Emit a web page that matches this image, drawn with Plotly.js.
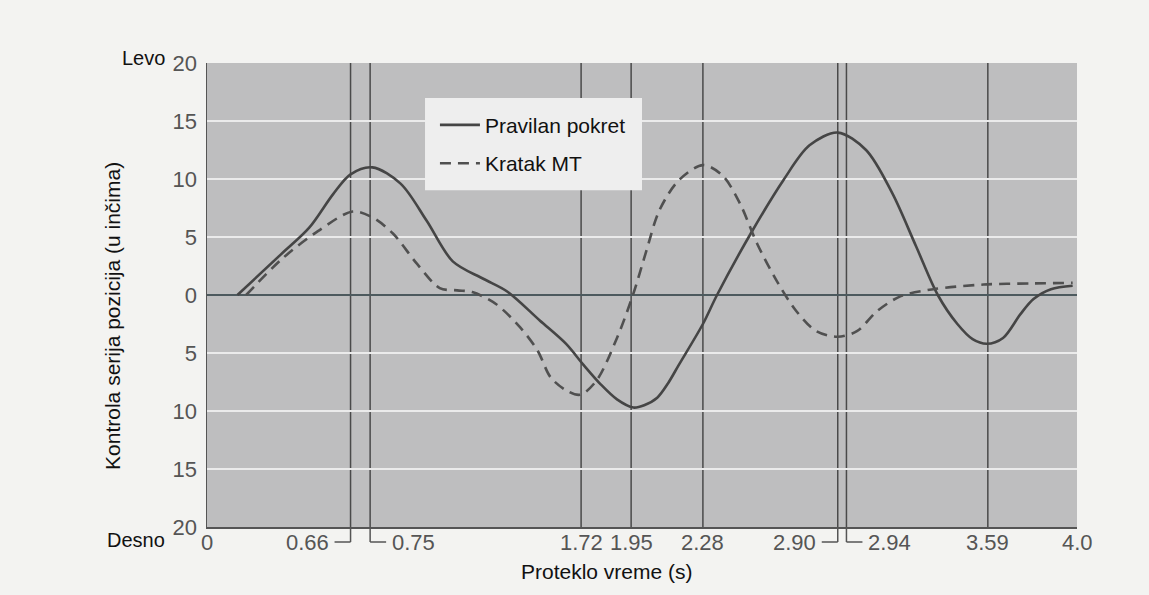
<!DOCTYPE html>
<html>
<head>
<meta charset="utf-8">
<script src="https://cdn.plot.ly/plotly-3.0.1.min.js"></script>
<style>html,body{margin:0;padding:0;background:#f3f3f1;}#chart{width:1149px;height:595px;}</style>
</head>
<body>
<div id="chart"></div>
<script>
// Time (s) and position (inches; + = left/Levo, - = right/Desno)
const solidTime = [0.14, 0.34, 0.47, 0.58, 0.66, 0.76, 0.89, 1.01, 1.13, 1.27, 1.38, 1.53, 1.65, 1.73, 1.81, 1.885, 1.96, 2.01, 2.07, 2.12, 2.17, 2.28, 2.345, 2.50, 2.65, 2.77, 2.90, 3.03, 3.15, 3.26, 3.36, 3.45, 3.52, 3.585, 3.66, 3.74, 3.80, 3.88, 3.98];
const solidPos  = [0, 3.5, 5.8, 8.7, 10.4, 11.0, 9.6, 6.4, 2.9, 1.4, 0.3, -2.2, -4.2, -6.0, -7.7, -9.0, -9.7, -9.5, -8.85, -7.6, -6.0, -2.5, 0, 5.3, 9.9, 12.9, 14.0, 12.5, 8.8, 4.2, 0, -2.5, -3.8, -4.2, -3.7, -1.65, -0.35, 0.5, 0.8];

const shortTime = [0.18, 0.35, 0.51, 0.67, 0.76, 0.855, 0.965, 1.07, 1.15, 1.22, 1.33, 1.44, 1.52, 1.58, 1.65, 1.715, 1.79, 1.885, 1.96, 2.02, 2.08, 2.17, 2.28, 2.37, 2.45, 2.53, 2.62, 2.71, 2.80, 2.90, 2.99, 3.08, 3.19, 3.34, 3.57, 3.80, 3.98];
const shortPos  = [0, 3.2, 5.5, 7.2, 6.7, 5.3, 2.7, 0.6, 0.4, 0.25, -0.8, -2.8, -4.8, -7.1, -8.2, -8.6, -7.4, -3.7, 0.1, 3.8, 7.3, 9.9, 11.2, 10.3, 7.9, 4.4, 1.2, -1.4, -3.1, -3.6, -3.1, -1.4, -0.1, 0.5, 0.9, 1.0, 1.05];

const seriesNames = ["Pravilan pokret", "Kratak MT"];

// Marked time instants (vertical lines)
const markTimes = [0.66, 0.75, 1.72, 1.95, 2.28, 2.90, 2.94, 3.59];
// x labels: side 0 = centred, -1 = label left of line with bracket, +1 = right with bracket
const xLabelVals = [0, 0.66, 0.75, 1.72, 1.95, 2.28, 2.90, 2.94, 3.59, 4.0];
const xLabelText = ["0", "0.66", "0.75", "1.72", "1.95", "2.28", "2.90", "2.94", "3.59", "4.0"];
const xLabelSide = [0, -1, 1, 0, 0, 0, -1, 1, 0, 0];

const yTickVals = [-20, -15, -10, -5, 0, 5, 10, 15, 20];
const yTickText = ["20", "15", "10", "5", "0", "5", "10", "15", "20"];

const FONT = "Liberation Sans, Arial, sans-serif";
const LINE_COL = "#454545";

const traces = [
  {x: solidTime, y: solidPos, name: seriesNames[0], mode: "lines", legendgroup: "a",
   line: {color: LINE_COL, width: 2.6, shape: "spline", smoothing: 0.9}},
  {x: shortTime, y: shortPos, name: seriesNames[1], mode: "lines", legendgroup: "b",
   line: {color: "#505050", width: 2.6, shape: "spline", smoothing: 0.9, dash: "11px,7px"}}
];

const shapes = [];
markTimes.forEach(t => {
  shapes.push({type: "line", xref: "x", yref: "paper", x0: t, x1: t, y0: 0, y1: 1,
               line: {color: "#4a4a4a", width: 1.5}, layer: "below"});
});
// legend panel
shapes.push({type: "rect", xref: "paper", yref: "paper", x0: 0.2506, x1: 0.5, y0: 0.726, y1: 0.9246,
             fillcolor: "#eeeeee", line: {width: 0}, layer: "above"});
const annotations = [];
xLabelVals.forEach((t, i) => {
  const s = xLabelSide[i];
  if (s !== 0) {
    shapes.push({type: "line", xref: "x", yref: "paper", xsizemode: "pixel", ysizemode: "pixel",
                 xanchor: t, yanchor: 0, x0: 0, x1: 0, y0: 0, y1: -15,
                 line: {color: "#555", width: 1.5}});
    shapes.push({type: "line", xref: "x", yref: "paper", xsizemode: "pixel", ysizemode: "pixel",
                 xanchor: t, yanchor: 0, x0: 0, x1: s * 16, y0: -15, y1: -15,
                 line: {color: "#555", width: 1.5}});
  }
  annotations.push({x: t, y: 0, xref: "x", yref: "paper", text: xLabelText[i], showarrow: false,
                    xanchor: s < 0 ? "right" : (s > 0 ? "left" : "center"), yanchor: "middle",
                    xshift: s * 20, yshift: -15,
                    font: {family: FONT, size: 22, color: "#555"}});
});
annotations.push({x: -0.046, y: 1.01, xref: "paper", yref: "paper", text: "Levo", showarrow: false,
                  xanchor: "right", yanchor: "middle", font: {family: FONT, size: 20, color: "#111"}});
annotations.push({x: -0.046, y: -0.028, xref: "paper", yref: "paper", text: "Desno", showarrow: false,
                  xanchor: "right", yanchor: "middle", font: {family: FONT, size: 20, color: "#111"}});
annotations.push({x: -0.108, y: 0.455, xref: "paper", yref: "paper", text: "Kontrola serija pozicija (u inčima)",
                  showarrow: false, textangle: -90, xanchor: "center", yanchor: "middle",
                  font: {family: FONT, size: 21, color: "#111"}});
annotations.push({x: 0.46, y: -0.095, xref: "paper", yref: "paper", text: "Proteklo vreme (s)",
                  showarrow: false, xanchor: "center", yanchor: "middle",
                  font: {family: FONT, size: 21, color: "#111"}});

const layout = {
  width: 1149, height: 595,
  margin: {l: 207, r: 72, t: 63, b: 68},
  paper_bgcolor: "#f3f3f1",
  plot_bgcolor: "#bebebf",
  font: {family: FONT, size: 21, color: "#555"},
  showlegend: true,
  legend: {x: 0.262, y: 0.91, xanchor: "left", yanchor: "top", bgcolor: "rgba(0,0,0,0)",
           borderwidth: 0, font: {family: FONT, size: 21, color: "#111"},
           traceorder: "grouped", tracegroupgap: 8, itemwidth: 40},
  xaxis: {range: [0, 4.0], showticklabels: false, showgrid: false, zeroline: false,
          showline: true, linecolor: "#555", linewidth: 1.5, ticks: "", fixedrange: true},
  yaxis: {range: [-20, 20], tickvals: yTickVals, ticktext: yTickText, showgrid: true,
          gridcolor: "#ebebeb", gridwidth: 1.5, zeroline: true, zerolinecolor: "#4d5a5e", zerolinewidth: 1.3,
          showline: true, linecolor: "#555", linewidth: 1.5, ticks: "", ticklen: 0, ticklabelstandoff: 4,
          tickfont: {family: FONT, size: 22, color: "#555"}, fixedrange: true},
  shapes: shapes,
  annotations: annotations
};

Plotly.newPlot("chart", traces, layout, {displayModeBar: false, staticPlot: true});
</script>
</body>
</html>
